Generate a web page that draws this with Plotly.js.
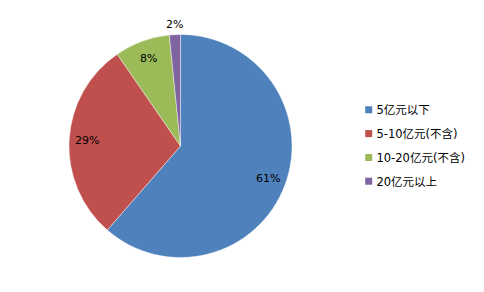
<!DOCTYPE html>
<html><head><meta charset="utf-8">
<script src="https://cdn.plot.ly/plotly-3.0.1.min.js"></script>
<style>html,body{margin:0;padding:0;background:#fff;}#chart{width:484px;height:292px;}</style>
</head><body><div id="chart"></div>
<script>
const categories = ['5亿元以下', '5-10亿元(不含)', '10-20亿元(不含)', '20亿元以上'];
const values = [61.4, 29.0, 8.0, 1.6];
const colors = ['#4F81BD', '#C0504D', '#9BBB59', '#8064A2'];

const W = 484, H = 292;
const cx = 180.5, cy = 146, R = 111.5;
const dom = {x: [(cx - R) / W, (cx + R) / W], y: [(H - cy - R) / H, (H - cy + R) / H]};

const total = values.reduce((a, b) => a + b, 0);
const annotations = [];
let cum = 0;
values.forEach((v, i) => {
  const frac = v / total;
  const mid = (cum + frac / 2) * 2 * Math.PI;
  cum += frac;
  const rr = frac < 0.03 ? 1.09 : 0.84;
  const px = cx + rr * R * Math.sin(mid);
  const py = cy - rr * R * Math.cos(mid);
  annotations.push({
    x: px / W, y: 1 - py / H, xref: 'paper', yref: 'paper',
    text: Math.round(frac * 100) + '%', showarrow: false,
    font: {family: 'DejaVu Sans, sans-serif', size: 11, color: '#000'},
    xanchor: 'center', yanchor: 'middle'
  });
});

const trace = {
  type: 'pie', labels: categories, values: values,
  marker: {colors: colors, line: {color: 'rgba(255,255,255,0.6)', width: 0.7}},
  sort: false, direction: 'clockwise', rotation: 0,
  textinfo: 'none', hoverinfo: 'label+percent',
  domain: dom
};

const layout = {
  width: W, height: H, margin: {l: 0, r: 0, t: 0, b: 0},
  paper_bgcolor: '#fff', plot_bgcolor: '#fff',
  showlegend: true,
  legend: {x: 0.66, y: 0.5, xanchor: 'left', yanchor: 'middle',
    font: {family: 'DejaVu Sans, Noto Sans CJK SC, sans-serif', size: 11.5, color: '#000'}},
  annotations: annotations
};

// legend layout targets (px)
const legendSymX = 368.7, legendTextX = 376.5, legendSymSize = 7;
const legendRowY = [109.8, 133.6, 157.5, 181.2];

Plotly.newPlot('chart', [trace], layout, {displayModeBar: false, staticPlot: true}).then(gd => {
  const lg = gd.querySelector('.legend');
  const m = /translate\(([-\d.]+)[ ,]+([-\d.]+)\)/.exec(lg.getAttribute('transform'));
  const lx = parseFloat(m[1]), ly = parseFloat(m[2]);
  const bg = lg.querySelector('.bg');
  if (bg) bg.setAttribute('width', 160);
  const sb = lg.querySelector('.scrollbox');
  if (sb) sb.removeAttribute('clip-path');
  lg.querySelectorAll('clipPath rect').forEach(r => r.setAttribute('width', 200));
  const h = legendSymSize / 2;
  gd.querySelectorAll('.legend .traces').forEach((t, i) => {
    t.setAttribute('transform', 'translate(0,' + (legendRowY[i] - ly) + ')');
    const p = t.querySelector('.legendpoints path');
    if (p) {
      p.setAttribute('d', 'M' + h + ',' + h + 'H-' + h + 'V-' + h + 'H' + h + 'Z');
      p.setAttribute('transform', 'translate(' + (legendSymX - lx) + ',0)');
      p.style.strokeWidth = '0';
    }
    const tx = t.querySelector('.legendtext');
    if (tx) tx.setAttribute('x', legendTextX - lx);
  });
});
</script></body></html>
